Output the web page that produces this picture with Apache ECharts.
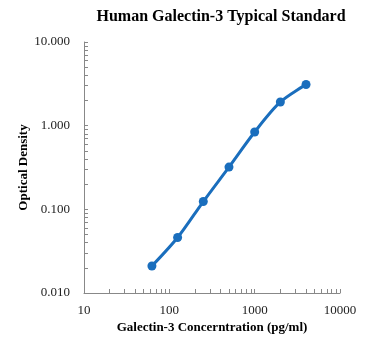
<!DOCTYPE html>
<html><head><meta charset="utf-8">
<script src="https://cdn.jsdelivr.net/npm/echarts@6/dist/echarts.min.js"></script>
<style>html,body{margin:0;padding:0;background:#fff}#c{width:369px;height:349px}</style>
</head><body><div id="c"></div>
<script>
const concentrations = [62.5, 125, 250, 500, 1000, 2000, 4000];
const opticalDensity = [0.021, 0.046, 0.124, 0.32, 0.84, 1.92, 3.1];
const xTicks = [10, 100, 1000, 10000];
const yTicks = [0.01, 0.1, 1, 10];

const chart = echarts.init(document.getElementById('c'));
const serif = '"Liberation Serif","Times New Roman",serif';
chart.setOption({
  animation: false,
  title: {
    text: 'Human Galectin-3 Typical Standard',
    left: 216, top: 4, textAlign: 'center',
    textStyle: {fontFamily: serif, fontWeight: 'bold', fontSize: 16, color: '#000'}
  },
  grid: {left: 84, right: 29, top: 42, bottom: 56},
  xAxis: {
    type: 'log', logBase: 10, min: xTicks[0], max: xTicks[xTicks.length-1],
    name: 'Galectin-3 Concerntration (pg/ml)', nameLocation: 'middle', nameGap: 28,
    nameMoveOverlap: false,
    nameTextStyle: {fontFamily: serif, fontWeight: 'bold', fontSize: 13, color: '#000'},
    axisLine: {lineStyle: {color: '#888', width: 1}},
    axisTick: {show: true, inside: true, length: 4, lineStyle: {color: '#888'}},
    minorTick: {show: true, splitNumber: 9, length: 4, lineStyle: {color: '#888'}},
    splitLine: {show: false},
    axisLabel: {fontFamily: serif, fontSize: 13, color: '#222', margin: 11,
      formatter: v => String(v)}
  },
  yAxis: {
    type: 'log', logBase: 10, min: yTicks[0], max: yTicks[yTicks.length-1],
    name: 'Optical Density', nameLocation: 'middle', nameGap: 54, nameRotate: 90,
    nameMoveOverlap: false,
    nameTextStyle: {fontFamily: serif, fontWeight: 'bold', fontSize: 13, color: '#000'},
    axisLine: {show: true, lineStyle: {color: '#888', width: 1}},
    axisTick: {show: true, inside: true, length: 4, lineStyle: {color: '#888'}},
    minorTick: {show: true, splitNumber: 9, length: 4, lineStyle: {color: '#888'}},
    splitLine: {show: false},
    axisLabel: {fontFamily: serif, fontSize: 13, color: '#222', margin: 14,
      formatter: v => v.toFixed(3)}
  },
  series: [{
    type: 'line', smooth: 0.3,
    data: concentrations.map((c, i) => [c, opticalDensity[i]]),
    symbol: 'circle', symbolSize: 9,
    lineStyle: {color: '#1a6ebd', width: 3},
    itemStyle: {color: '#1a6ebd'}
  }]
});
</script></body></html>
